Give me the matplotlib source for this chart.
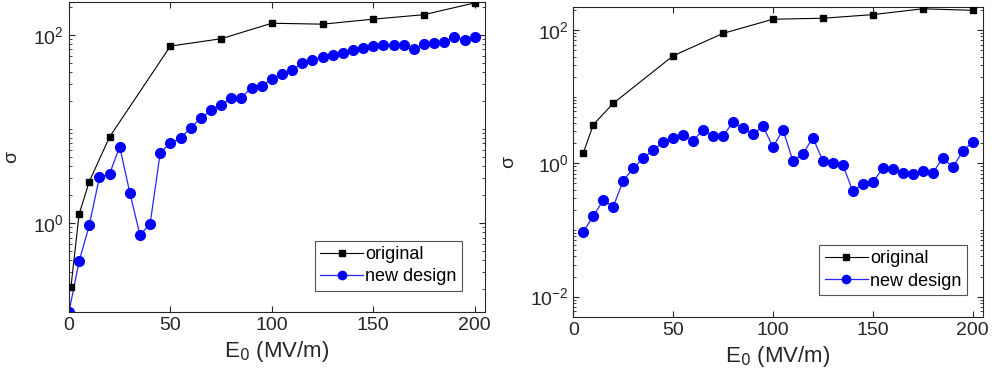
import matplotlib
matplotlib.use('Agg')
import matplotlib.pyplot as plt
from matplotlib.ticker import LogLocator, NullFormatter, FixedLocator

plt.rcParams['font.family'] = ['Liberation Sans', 'DejaVu Sans']

# левая панель
left_orig_E = [1, 5, 10, 20, 50, 75, 100, 125, 150, 175, 200]
left_orig = [0.21, 1.24, 2.75, 8.2, 76, 91, 133, 130, 147, 164, 219]
left_new_E = list(range(0, 201, 5))
left_new = [0.113, 0.39, 0.94, 3.06, 3.3, 6.5, 2.1, 0.745, 0.975, 5.6,
            7.05, 7.96, 10.3, 13.0, 15.8, 18.0, 21.2, 21.5, 27.5, 28.7,
            34.0, 38.2, 42.4, 50.0, 54.2, 58.3, 61.3, 64.9, 69.3, 73.2,
            76.3, 78.3, 78.3, 78.9, 71.0, 79.5, 82.2, 84.9, 94.5, 88.5, 95.3]

# правая панель
right_orig_E = [5, 10, 20, 50, 75, 100, 125, 150, 175, 200]
right_orig = [1.43, 3.79, 7.94, 41, 89, 145, 150, 170, 208, 197]
right_new_E = list(range(5, 201, 5))
right_new = [0.094, 0.162, 0.28, 0.224, 0.55, 0.84, 1.19, 1.58, 2.09, 2.37,
             2.69, 2.18, 3.19, 2.54, 2.57, 4.17, 3.35, 2.75, 3.59, 1.75,
             3.19, 1.08, 1.39, 2.42, 1.08, 1.02, 0.94, 0.38, 0.49, 0.52,
             0.85, 0.81, 0.72, 0.69, 0.76, 0.71, 1.21, 0.87, 1.51, 2.11]

fig = plt.figure(figsize=(9.95, 3.9), dpi=100)
ax1 = fig.add_axes([0.0693, 0.200, 0.418, 0.795])
ax2 = fig.add_axes([0.5762, 0.188, 0.4114, 0.795])

panels = [
    (ax1, left_orig_E, left_orig, left_new_E, left_new, (0.113, 224), [1, 100], (0.945, 0.068)),
    (ax2, right_orig_E, right_orig, right_new_E, right_new, (0.005, 224), [0.01, 1, 100], (0.961, 0.07)),
]

for ax, oe, ov, ne, nv, ylim, yt, anchor in panels:
    ax.semilogy(oe, ov, '-s', color='black', linewidth=0.8, markersize=5,
                label='original', zorder=3)
    ax.semilogy(ne, nv, '-o', color=(0.15, 0.15, 1.0), markerfacecolor='blue',
                markeredgecolor='blue', linewidth=0.9, markersize=7,
                label='new design', zorder=2)
    ax.set_xlim(0, 205)
    ax.set_ylim(*ylim)
    ax.set_xticks([0, 50, 100, 150, 200])
    ax.yaxis.set_major_locator(FixedLocator(yt))
    ax.yaxis.set_minor_locator(LogLocator(base=10, subs=range(1, 10), numticks=50))
    ax.yaxis.set_minor_formatter(NullFormatter())
    ax.tick_params(which='both', direction='in', top=True, right=True,
                   labelsize=14, colors='#262626')
    ax.tick_params(which='major', length=4)
    ax.tick_params(which='minor', length=2)
    for s in ax.spines.values():
        s.set_color('#262626')
        s.set_linewidth(0.8)
    ax.set_xlabel('E$_0$ (MV/m)', fontsize=16, color='#262626')
    ax.set_ylabel('σ', fontsize=14, color='#262626')
    leg = ax.legend(loc='lower right', bbox_to_anchor=anchor, borderaxespad=0,
                    fontsize=13, fancybox=False, edgecolor='#262626',
                    handlelength=2.4, borderpad=0.3, labelspacing=0.3,
                    handletextpad=0.1, markerscale=0.85)
    leg.get_frame().set_linewidth(0.8)

ax1.yaxis.set_label_coords(-0.118, 0.5)
ax2.yaxis.set_label_coords(-0.138, 0.5)

fig.savefig('out.png', dpi=100)
